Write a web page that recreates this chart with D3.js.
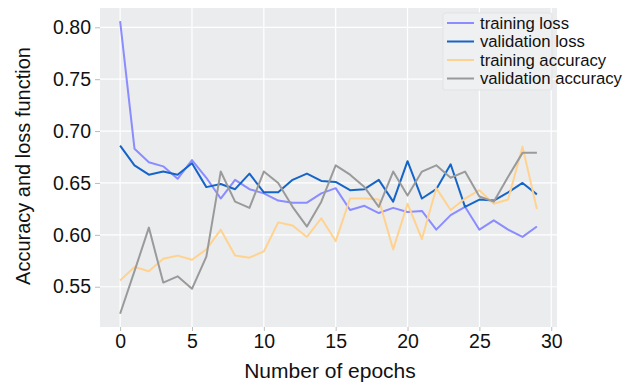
<!DOCTYPE html>
<html>
<head>
<meta charset="utf-8">
<script src="https://cdn.jsdelivr.net/npm/d3@7"></script>
<style>
  body { margin: 0; background: #fff; }
  svg { display: block; font-family: "Liberation Sans", Arial, sans-serif; }
</style>
</head>
<body>
<div id="chart"></div>
<script>
const epochs = d3.range(30);

const trainingLoss = [0.806, 0.683, 0.670, 0.666, 0.654, 0.672, 0.655, 0.635, 0.653, 0.644,
  0.640, 0.633, 0.631, 0.631, 0.640, 0.645, 0.624, 0.628, 0.621, 0.626,
  0.622, 0.623, 0.605, 0.619, 0.627, 0.605, 0.614, 0.605, 0.598, 0.608];

const validationLoss = [0.686, 0.667, 0.658, 0.661, 0.658, 0.669, 0.646, 0.649, 0.644, 0.659,
  0.641, 0.641, 0.653, 0.659, 0.652, 0.651, 0.643, 0.644, 0.653, 0.632,
  0.671, 0.635, 0.644, 0.668, 0.627, 0.634, 0.633, 0.641, 0.650, 0.639];

const trainingAccuracy = [0.556, 0.569, 0.565, 0.577, 0.580, 0.576, 0.586, 0.605, 0.580, 0.578,
  0.584, 0.612, 0.609, 0.598, 0.616, 0.594, 0.635, 0.635, 0.634, 0.586,
  0.630, 0.596, 0.645, 0.624, 0.635, 0.643, 0.630, 0.634, 0.685, 0.625];

const validationAccuracy = [0.524, 0.565, 0.607, 0.554, 0.560, 0.548, 0.579, 0.661, 0.632, 0.626,
  0.661, 0.650, 0.627, 0.608, 0.632, 0.667, 0.658, 0.646, 0.627, 0.661,
  0.638, 0.661, 0.667, 0.655, 0.661, 0.637, 0.632, 0.656, 0.679, 0.679];

const xTicks = [0, 5, 10, 15, 20, 25, 30];
const yTicks = [0.55, 0.60, 0.65, 0.70, 0.75, 0.80];

const series = [
  { name: "training loss", values: trainingLoss, color: "#8a8cff" },
  { name: "validation loss", values: validationLoss, color: "#1565c8" },
  { name: "training accuracy", values: trainingAccuracy, color: "#ffd38f" },
  { name: "validation accuracy", values: validationAccuracy, color: "#9a9a9a" }
];

const width = 638, height = 383;
const margin = { top: 8, right: 81, bottom: 56, left: 100 };

const svg = d3.select("#chart").append("svg")
  .attr("width", width)
  .attr("height", height);

const x = d3.scaleLinear()
  .domain([-1.4, 30.4])
  .range([margin.left, width - margin.right]);

const y = d3.scaleLinear()
  .domain([0.5112, 0.8186])
  .range([height - margin.bottom, margin.top]);

// panel background
svg.append("rect")
  .attr("x", margin.left)
  .attr("y", margin.top)
  .attr("width", width - margin.left - margin.right)
  .attr("height", height - margin.top - margin.bottom)
  .attr("fill", "#ebecee");

// grid
const grid = svg.append("g").attr("stroke", "#fff").attr("stroke-width", 1.2);
grid.selectAll(".gx").data(xTicks).join("line")
  .attr("x1", d => x(d)).attr("x2", d => x(d))
  .attr("y1", margin.top).attr("y2", height - margin.bottom);
grid.selectAll(".gy").data(yTicks).join("line")
  .attr("x1", margin.left).attr("x2", width - margin.right)
  .attr("y1", d => y(d)).attr("y2", d => y(d));

// axes
const xAxis = svg.append("g")
  .attr("transform", `translate(0,${height - margin.bottom})`)
  .call(d3.axisBottom(x).tickValues(xTicks).tickSize(4).tickPadding(3).tickFormat(d3.format("d")));
const yAxis = svg.append("g")
  .attr("transform", `translate(${margin.left},0)`)
  .call(d3.axisLeft(y).tickValues(yTicks).tickSize(5).tickPadding(4).tickFormat(d3.format(".2f")));

[xAxis, yAxis].forEach(a => {
  a.select(".domain").remove();
  a.selectAll(".tick line").attr("stroke", "#bbb");
  a.selectAll(".tick text")
    .attr("fill", "#111")
    .attr("font-size", 19.5)
    .attr("font-family", "'Liberation Sans', Arial, sans-serif");
});

// lines
const line = d3.line()
  .x((d, i) => x(epochs[i]))
  .y(d => y(d));

svg.append("g")
  .selectAll("path")
  .data(series)
  .join("path")
  .attr("fill", "none")
  .attr("stroke", d => d.color)
  .attr("stroke-width", 2)
  .attr("stroke-linejoin", "round")
  .attr("d", d => line(d.values));

// legend
const legend = svg.append("g").attr("transform", "translate(443,13)");
legend.append("rect")
  .attr("width", 109).attr("height", 77)
  .attr("rx", 2)
  .attr("fill", "#eff0f2")
  .attr("stroke", "#e2e3e6");

const item = legend.selectAll(".item")
  .data(series)
  .join("g")
  .attr("transform", (d, i) => `translate(0,${10 + i * 18.5})`);

item.append("line")
  .attr("x1", 4).attr("x2", 31)
  .attr("stroke", d => d.color)
  .attr("stroke-width", 2);

item.append("text")
  .attr("x", 37)
  .attr("dy", "0.35em")
  .attr("font-size", 16.7)
  .attr("fill", "#111")
  .text(d => d.name);

// axis titles
svg.append("text")
  .attr("x", 330)
  .attr("y", 378)
  .attr("text-anchor", "middle")
  .attr("font-size", 21)
  .attr("fill", "#111")
  .text("Number of epochs");

svg.append("text")
  .attr("transform", `translate(30,166) rotate(-90)`)
  .attr("text-anchor", "middle")
  .attr("font-size", 20)
  .attr("fill", "#111")
  .text("Accuracy and loss function");
</script>
</body>
</html>
